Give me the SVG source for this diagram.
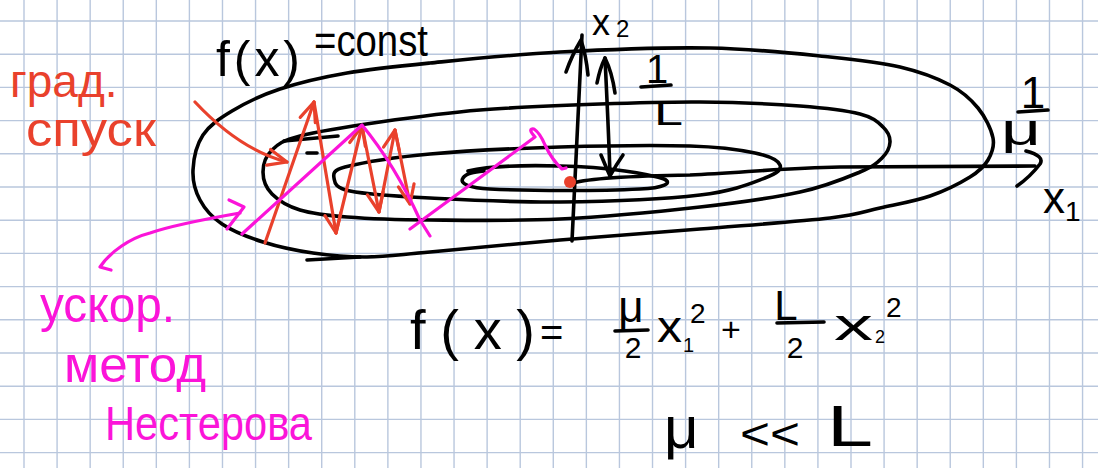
<svg xmlns="http://www.w3.org/2000/svg" width="1098" height="468" viewBox="0 0 1098 468">
<style>
.grid{fill:none;stroke:#b9c7dd;stroke-width:1.4}
.ink{fill:none;stroke:#000;stroke-width:3.6;stroke-linecap:round;stroke-linejoin:round}
.red{fill:none;stroke:#e9412c;stroke-width:3.2;stroke-linecap:round;stroke-linejoin:round}
.mag{fill:none;stroke:#fb14d9;stroke-width:3.2;stroke-linecap:round;stroke-linejoin:round}
.t{font-family:"Liberation Sans","DejaVu Sans",sans-serif;fill:#000}
.tr{font-family:"Liberation Sans","DejaVu Sans",sans-serif;fill:#e9412c}
.tm{font-family:"Liberation Sans","DejaVu Sans",sans-serif;fill:#fb14d9}
</style>
<defs>
<marker id="ahR" markerUnits="userSpaceOnUse" markerWidth="30" markerHeight="30" viewBox="-22 -15 30 30" refX="0" refY="0" orient="auto">
<path d="M-19,-8 L0,0 L-19,8" fill="none" stroke="#e9412c" stroke-width="3.2" stroke-linecap="round" stroke-linejoin="round"/>
</marker>
</defs>
<rect width="1098" height="468" fill="#fff"/>
<path id="grid" class="grid" d="M24,0V468M57.08,0V468M90.16,0V468M123.24,0V468M156.32,0V468M189.4,0V468M222.48,0V468M255.56,0V468M288.64,0V468M321.72,0V468M354.8,0V468M387.88,0V468M420.96,0V468M454.04,0V468M487.12,0V468M520.2,0V468M553.28,0V468M586.36,0V468M619.44,0V468M652.52,0V468M685.6,0V468M718.68,0V468M751.76,0V468M784.84,0V468M817.92,0V468M851,0V468M884.08,0V468M917.16,0V468M950.24,0V468M983.32,0V468M1016.4,0V468M1049.48,0V468M1082.56,0V468M0,21H1098M0,54.2H1098M0,87.4H1098M0,120.6H1098M0,153.8H1098M0,187H1098M0,220.2H1098M0,253.4H1098M0,286.6H1098M0,319.8H1098M0,353H1098M0,386.2H1098M0,419.4H1098M0,452.6H1098"/>

<g id="contours">
<path id="contour-outer" class="ink" d="M193,170 C193.5,159.2 196.5,144.8 203,135 C209.5,125.2 219.2,118.7 232,111 C244.8,103.3 260.8,95.3 280,89 C299.2,82.7 322,77.3 347,73 C372,68.7 394.5,66.5 430,63 C465.5,59.5 513.3,54.5 560,52 C606.7,49.5 665,47.2 710,48 C755,48.8 798.3,53.8 830,57 C861.7,60.2 880,62.3 900,67 C920,71.7 937,78.2 950,85 C963,91.8 970.8,99.2 978,108 C985.2,116.8 991.3,129.3 993,138 C994.7,146.7 991.8,153.5 988,160 C984.2,166.5 979.7,171 970,177 C960.3,183 945,190.8 930,196 C915,201.2 896.7,204.3 880,208 C863.3,211.7 860,214.5 830,218 C800,221.5 745,225.3 700,229 C655,232.7 605,236.2 560,240 C515,243.8 462.2,249.2 430,252 C397.8,254.8 386.5,256.8 367,257 C347.5,257.2 330.3,255.5 313,253 C295.7,250.5 278.2,246.8 263,242 C247.8,237.2 232.5,231 222,224 C211.5,217 204.8,209 200,200 C195.2,191 192.5,180.8 193,170 Z"/>
<path class="ink" d="M307,260 L360,257"/>
<path id="contour-2" class="ink" d="M263,172 C263,164.7 265.8,156 272,150 C278.2,144 282,140.7 300,136 C318,131.3 350,126.3 380,122 C410,117.7 443.3,113 480,110 C516.7,107 563.3,105.3 600,104 C636.7,102.7 666.7,101.7 700,102 C733.3,102.3 773.3,104 800,106 C826.7,108 846.2,110.5 860,114 C873.8,117.5 878,122.3 883,127 C888,131.7 890.2,136.8 890,142 C889.8,147.2 887,153 882,158 C877,163 873.7,166.3 860,172 C846.3,177.7 826.7,186.2 800,192 C773.3,197.8 740,202.5 700,207 C660,211.5 605,216.8 560,219 C515,221.2 465.5,220.3 430,220 C394.5,219.7 368.7,218.7 347,217 C325.3,215.3 312.5,213.8 300,210 C287.5,206.2 278.2,200.3 272,194 C265.8,187.7 263,179.3 263,172 Z"/>
<path class="ink" d="M284,141 L338,136"/>
<path class="ink" d="M307,153 L317,153"/>
<path id="contour-3" class="ink" d="M334,178 C333.2,174 333,170 345,167 C361,163 394.2,157.3 430,154 C465.8,150.7 516.7,148.3 560,147 C603.3,145.7 657.5,145 690,146 C722.5,147 740,149.8 755,153 C770,156.2 778.3,160.8 780,165 C781.7,169.2 778.3,173 765,178 C751.7,183 734.2,191 700,195 C665.8,199 605,201.5 560,202 C515,202.5 465,199.8 430,198 C395,196.2 366,194.3 350,191 C334,187.7 334.8,182 334,178 Z"/>
<path id="contour-inner" class="ink" d="M468,171 C490,166 525,165 560,166 C610,167 648,174 664,179 C673,183 664,188 640,189 C600,191 530,191 490,189 C470,188 459,184 463,178 C466,173 475,172 484,171"/>
</g>

<g id="axes">
<path class="ink" d="M572,241 C575,170 579,100 582,35"/>
<path class="ink" d="M566,72 Q572,55 581,40 Q586,55 588,75"/>
<path class="ink" d="M573,183 C590,178 630,176 690,175 C740,173 780,168 840,167 L1035,166"/>
<path class="ink" d="M1026,151 Q1045,156 1040,164 Q1030,177 1017,186"/>
<path class="ink" d="M605,58 C607,100 609,140 610,176"/>
<path class="ink" d="M597,83 Q600,68 605,58 Q612,72 615,93"/>
<path class="ink" d="M601,155 Q606,167 610,176 Q616,165 623,155"/>
</g>

<g id="connectors">
<g id="gradient-descent">
<path class="red" d="M195,102 Q240,150 287,162" marker-end="url(#ahR)"/>
<path class="red" d="M265,243 L314,102" marker-end="url(#ahR)"/>
<path class="red" d="M314,102 L336,233" marker-end="url(#ahR)"/>
<path class="red" d="M336,233 L362,126" marker-end="url(#ahR)"/>
<path class="red" d="M362,126 L379,212" marker-end="url(#ahR)"/>
<path class="red" d="M379,212 L395,130" marker-end="url(#ahR)"/>
<path class="red" d="M395,130 L410,204" marker-end="url(#ahR)"/>
</g>
<g id="nesterov">
<path class="mag" d="M111,270 L100,267 C110,252 130,238 150,233 C170,226 200,220 240,213"/>
<path class="mag" d="M229,200 L244,207 L227,229"/>
<path class="mag" d="M242,234 L362,125 Q395,165 420,220 L430,236"/>
<path class="mag" d="M410,229 L535,137 Q527,128 534,129 Q540,133 545,145 Q552,160 562,169 L566,168"/>
</g>
<circle id="minimum" cx="570" cy="182" r="6" fill="#e9412c"/>
</g>

<g id="labels">
<text class="t" x="216" y="76" font-size="50" textLength="84" lengthAdjust="spacing">f(x)</text>
<text class="t" x="314" y="56" font-size="44" textLength="114" lengthAdjust="spacingAndGlyphs">=const</text>
<text class="t" x="592" y="35" font-size="36">x<tspan font-size="24" dx="6" dy="2">2</tspan></text>
<text class="t" x="657" y="83" font-size="40" text-anchor="middle">1</text>
<path class="ink" d="M641,87 L671,85"/>
<text class="t" x="654" y="125" font-size="35" textLength="29" lengthAdjust="spacingAndGlyphs">L</text>
<text class="t" x="1033" y="108" font-size="44" text-anchor="middle">1</text>
<path class="ink" d="M1018,112 L1048,110"/>
<text class="t" x="1001" y="145" font-size="44" textLength="40" lengthAdjust="spacingAndGlyphs">μ</text>
<text class="t" x="1043" y="213" font-size="44">x<tspan font-size="28" dy="8">1</tspan></text>
<text class="tr" x="10" y="97" font-size="46">град.</text>
<text class="tr" x="26" y="146" font-size="48" textLength="130" lengthAdjust="spacingAndGlyphs">спуск</text>
<text class="tm" x="40" y="322" font-size="50" textLength="135" lengthAdjust="spacingAndGlyphs">ускор.</text>
<text class="tm" x="64" y="382" font-size="50" textLength="142" lengthAdjust="spacingAndGlyphs">метод</text>
<text class="tm" x="105" y="440" font-size="48" textLength="207" lengthAdjust="spacingAndGlyphs">Нестерова</text>
<g id="formula">
<text class="t" x="410" y="349" font-size="56" textLength="125" lengthAdjust="spacing">f(x)</text>
<text class="t" x="540" y="346" font-size="40">=</text>
<text class="t" x="631" y="322" font-size="44" text-anchor="middle">μ</text>
<path class="ink" d="M615,331 L648,330"/>
<text class="t" x="633" y="358" font-size="30" text-anchor="middle">2</text>
<text class="t" x="657" y="342" font-size="44" textLength="25" lengthAdjust="spacingAndGlyphs">x</text>
<text class="t" x="683" y="352" font-size="20">1</text>
<text class="t" x="690" y="323" font-size="28">2</text>
<text class="t" x="731" y="341" font-size="34" text-anchor="middle">+</text>
<text class="t" x="786" y="320" font-size="42" text-anchor="middle">L</text>
<path class="ink" d="M777,323 L824,322"/>
<text class="t" x="795" y="358" font-size="30" text-anchor="middle">2</text>
<text class="t" x="834" y="340" font-size="44" textLength="39" lengthAdjust="spacingAndGlyphs">x</text>
<text class="t" x="875" y="343" font-size="18">2</text>
<text class="t" x="886" y="317" font-size="28">2</text>
</g>
<text class="t" x="664" y="448" font-size="60">μ</text>
<text class="t" x="740" y="449" font-size="44" textLength="60" lengthAdjust="spacingAndGlyphs">&lt;&lt;</text>
<text class="t" x="827" y="446" font-size="58" textLength="46" lengthAdjust="spacingAndGlyphs">L</text>
</g>
</svg>
